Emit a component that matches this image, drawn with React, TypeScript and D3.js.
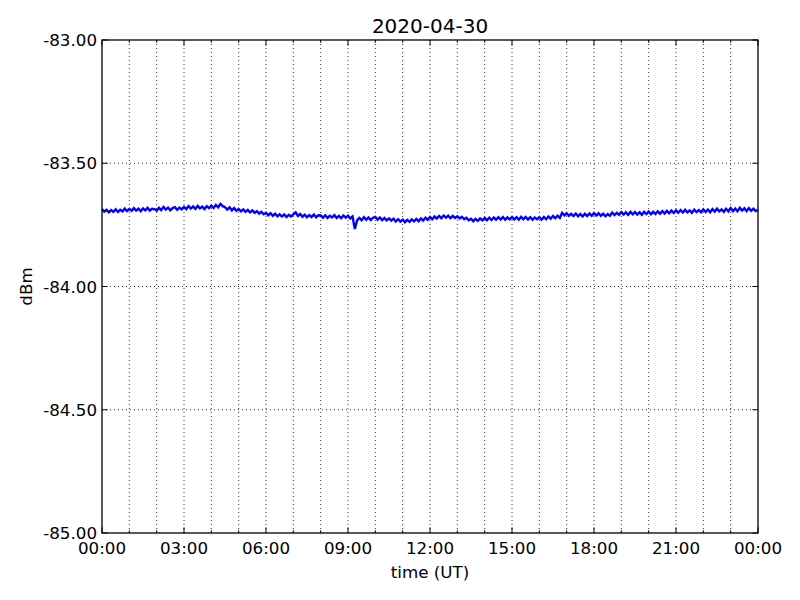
import React from "react";
import * as d3 from "d3";

const title = "2020-04-30";
const xLabel = "time (UT)";
const yLabel = "dBm";
const yTicks = [-85, -84.5, -84, -83.5, -83];
const xMajorHours = [0, 3, 6, 9, 12, 15, 18, 21, 24];
const xMinorHours = d3.range(0, 25);
const xTickLabels = ["00:00", "03:00", "06:00", "09:00", "12:00", "15:00", "18:00", "21:00", "00:00"];
const stepMinutes = 5;
// dBm readings every 5 minutes, one row per hour
const signal = [
  -83.686,-83.696,-83.689,-83.699,-83.690,-83.697,-83.687,-83.698,-83.689,-83.695,-83.684,-83.694,
  -83.685,-83.693,-83.682,-83.692,-83.684,-83.694,-83.683,-83.691,-83.681,-83.692,-83.685,-83.686,
  -83.692,-83.681,-83.690,-83.677,-83.688,-83.680,-83.691,-83.682,-83.678,-83.689,-83.680,-83.687,
  -83.677,-83.686,-83.674,-83.684,-83.675,-83.685,-83.673,-83.683,-83.676,-83.686,-83.674,-83.682,
  -83.672,-83.681,-83.669,-83.679,-83.665,-83.674,-83.678,-83.688,-83.679,-83.691,-83.682,-83.693,
  -83.685,-83.695,-83.687,-83.697,-83.689,-83.699,-83.691,-83.701,-83.694,-83.704,-83.697,-83.707,
  -83.701,-83.711,-83.703,-83.713,-83.705,-83.715,-83.707,-83.716,-83.708,-83.718,-83.709,-83.716,
  -83.707,-83.699,-83.714,-83.706,-83.717,-83.709,-83.719,-83.710,-83.718,-83.708,-83.719,-83.711,
  -83.712,-83.721,-83.711,-83.722,-83.713,-83.720,-83.710,-83.722,-83.714,-83.723,-83.712,-83.721,
  -83.713,-83.724,-83.716,-83.767,-83.732,-83.722,-83.731,-83.719,-83.729,-83.720,-83.730,-83.721,
  -83.718,-83.729,-83.720,-83.731,-83.722,-83.732,-83.724,-83.733,-83.725,-83.736,-83.727,-83.737,
  -83.729,-83.739,-83.730,-83.738,-83.728,-83.736,-83.726,-83.735,-83.724,-83.732,-83.721,-83.729,
  -83.718,-83.727,-83.716,-83.724,-83.714,-83.723,-83.712,-83.721,-83.713,-83.723,-83.714,-83.722,
  -83.715,-83.724,-83.717,-83.727,-83.721,-83.731,-83.725,-83.735,-83.726,-83.734,-83.724,-83.732,
  -83.722,-83.731,-83.721,-83.730,-83.720,-83.729,-83.719,-83.728,-83.718,-83.729,-83.720,-83.728,
  -83.718,-83.728,-83.719,-83.729,-83.717,-83.727,-83.718,-83.728,-83.719,-83.729,-83.720,-83.727,
  -83.719,-83.729,-83.718,-83.727,-83.716,-83.725,-83.714,-83.723,-83.713,-83.722,-83.701,-83.711,
  -83.703,-83.713,-83.705,-83.714,-83.704,-83.715,-83.706,-83.716,-83.705,-83.714,-83.704,-83.713,
  -83.702,-83.712,-83.703,-83.713,-83.705,-83.715,-83.706,-83.713,-83.700,-83.710,-83.701,-83.709,
  -83.698,-83.708,-83.699,-83.709,-83.697,-83.707,-83.698,-83.708,-83.699,-83.709,-83.697,-83.706,
  -83.696,-83.707,-83.697,-83.706,-83.695,-83.705,-83.694,-83.704,-83.693,-83.703,-83.692,-83.702,
  -83.691,-83.701,-83.690,-83.700,-83.689,-83.699,-83.691,-83.701,-83.688,-83.698,-83.690,-83.699,
  -83.687,-83.698,-83.688,-83.699,-83.686,-83.696,-83.684,-83.695,-83.687,-83.697,-83.685,-83.695,
  -83.682,-83.694,-83.684,-83.695,-83.681,-83.692,-83.683,-83.694,-83.682,-83.693,-83.684,-83.694,
  -83.689,
];

const W = 800, H = 600;
const L = 102, R = 758, T = 40, B = 533;
const font = "'DejaVu Sans', sans-serif";

export default function App() {
  const x = d3.scaleLinear().domain([0, 24]).range([L, R]);
  const y = d3.scaleLinear().domain([-85, -83]).range([B, T]);
  const line = d3
    .line<number>()
    .x((_, i) => x((i * stepMinutes) / 60))
    .y((d) => y(d));
  const major = 5.6, minor = 2.8;
  return (
    <svg width={W} height={H} style={{ position: "absolute", left: 0, top: 0, background: "#fff" }} fontFamily={font}>
      <rect x={0} y={0} width={W} height={H} fill="#fff" />
      {xMinorHours.slice(1, -1).map((h) => (
        <line key={"gx" + h} x1={x(h)} x2={x(h)} y1={T} y2={B} stroke="#000" strokeWidth={0.8} strokeDasharray="1,3" />
      ))}
      {yTicks.slice(1, -1).map((v) => (
        <line key={"gy" + v} x1={L} x2={R} y1={y(v)} y2={y(v)} stroke="#000" strokeWidth={0.8} strokeDasharray="1,3" />
      ))}
      <path d={line(signal) || ""} fill="none" stroke="#0000ff" strokeWidth={2.4} strokeLinejoin="miter" />
      {xMinorHours.map((h) => {
        const len = h % 3 === 0 ? major : minor;
        return (
          <g key={"tx" + h}>
            <line x1={x(h)} x2={x(h)} y1={B} y2={B - len} stroke="#000" strokeWidth={1} />
            <line x1={x(h)} x2={x(h)} y1={T} y2={T + len} stroke="#000" strokeWidth={1} />
          </g>
        );
      })}
      {yTicks.map((v) => (
        <g key={"ty" + v}>
          <line x1={L} x2={L + major} y1={y(v)} y2={y(v)} stroke="#000" strokeWidth={1} />
          <line x1={R} x2={R - major} y1={y(v)} y2={y(v)} stroke="#000" strokeWidth={1} />
        </g>
      ))}
      <rect x={L} y={T} width={R - L} height={B - T} fill="none" stroke="#000" strokeWidth={1.3} />
      {xMajorHours.map((h, i) => (
        <text key={"lx" + h} x={x(h)} y={B + 21} textAnchor="middle" fontSize={16.7} fill="#000">
          {xTickLabels[i]}
        </text>
      ))}
      {yTicks.map((v) => (
        <text key={"ly" + v} x={L - 5} y={y(v) + 6} textAnchor="end" fontSize={16.7} fill="#000">
          {v.toFixed(2)}
        </text>
      ))}
      <text x={(L + R) / 2} y={33} textAnchor="middle" fontSize={20} fill="#000">
        {title}
      </text>
      <text x={(L + R) / 2} y={578} textAnchor="middle" fontSize={16.7} fill="#000">
        {xLabel}
      </text>
      <text transform={`translate(32,${(T + B) / 2}) rotate(-90)`} textAnchor="middle" fontSize={16.7} fill="#000">
        {yLabel}
      </text>
    </svg>
  );
}
